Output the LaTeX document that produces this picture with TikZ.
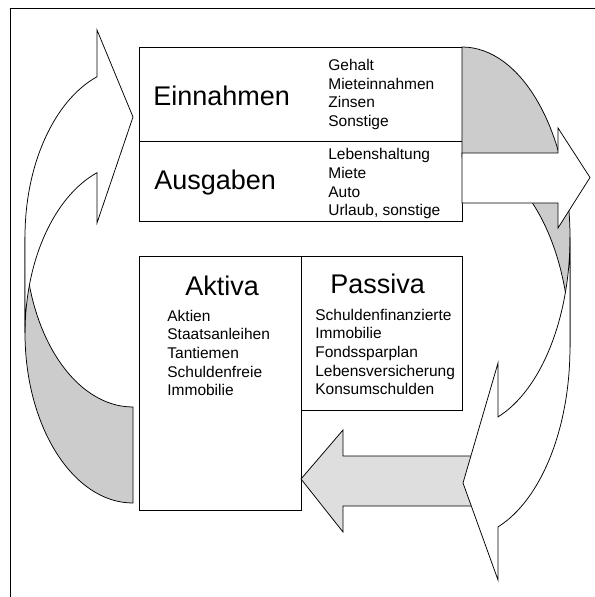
\documentclass[tikz,border=0pt]{standalone}
\usepackage{fontspec}
\setmainfont{Liberation Sans}
\begin{document}
\begin{tikzpicture}[x=1bp,y=-1bp,
  line width=0.75bp, line join=miter,
  big/.style={font=\fontsize{27bp}{32bp}\selectfont, inner sep=0pt, anchor=base west},
  small/.style={font=\fontsize{15.5bp}{18.7bp}\selectfont, inner sep=0pt, anchor=base west},
  box/.style={draw, inner sep=0pt},
  backgray/.style={fill=black!20, draw},
  front/.style={fill=white, draw},
  lightarrow/.style={fill=black!13, draw}]
\useasboundingbox (0,0) rectangle (595,597);
% partial frame
\draw (10,597) -- (10,8) -- (595,8);
% boxes
\node[box, minimum width=323bp, minimum height=94bp] (einbox) at (300.5,94) {};
\node[box, minimum width=323bp, minimum height=80bp] (ausbox) at (300.5,181) {};
\node[box, minimum width=162bp, minimum height=254bp] (aktbox) at (220,383) {};
\node[box, minimum width=161bp, minimum height=154bp] (pasbox) at (381.5,333) {};
% left curved arrow: back (gray) part
\draw[backgray] (25,333) arc[start angle=180, end angle=90, x radius=108, y radius=170]
  -- (133,407) arc[start angle=90, end angle=180, x radius=108, y radius=170] -- cycle;
% left curved arrow: front (white) part
\draw[front] (25,237) arc[start angle=180, end angle=250.5, x radius=108, y radius=170]
  -- (97,30) -- (133,117) -- (97,223) -- (97,172.7)
  arc[start angle=250.5, end angle=180, x radius=108, y radius=170] -- cycle;
% right curved arrow: back (gray) tail
\draw[backgray] (462,47) arc[start angle=270, end angle=360, x radius=108, y radius=190.4]
  -- (570,347.4) arc[start angle=360, end angle=270, x radius=108, y radius=190.4] -- cycle;
% straight white arrow to the right
\draw[front] (462,153) -- (558,153) -- (558,128) -- (590,177.5) -- (558,228) -- (558,203) -- (462,203) -- cycle;
% light gray arrow to the left
\draw[lightarrow] (301,479) -- (343,430) -- (343,456) -- (490,456) -- (490,506) -- (343,506) -- (343,532) -- cycle;
% right curved arrow: front (white) part
\draw[front] (570,237.4) arc[start angle=0, end angle=70.5, x radius=108, y radius=190.4]
  -- (498,363) -- (463,483) -- (498,580) -- (498,526.9)
  arc[start angle=70.5, end angle=0, x radius=108, y radius=190.4] -- cycle;
% titles
\node[big] (tein) at (153,106) {Einnahmen};
\node[big] (taus) at (154,189) {Ausgaben};
\node[big] (takt) at (185,295) {Aktiva};
\node[big] (tpas) at (330,293) {Passiva};
% lists
\foreach \t [count=\i] in {Gehalt, Mieteinnahmen, Zinsen, Sonstige}
  \node[small] (ein\i) at (328,{70.4+18.7*(\i-1)}) {\t};
\foreach \t [count=\i] in {Lebenshaltung, Miete, Auto, {Urlaub, sonstige}}
  \node[small] (aus\i) at (328,{159.8+18.7*(\i-1)}) {\t};
\foreach \t [count=\i] in {Aktien, Staatsanleihen, Tantiemen, Schuldenfreie, Immobilie}
  \node[small] (akt\i) at (167,{321+18.7*(\i-1)}) {\t};
\foreach \t [count=\i] in {Schuldenfinanzierte, Immobilie, Fondssparplan, Lebensversicherung, Konsumschulden}
  \node[small] (pas\i) at (315,{320+18.7*(\i-1)}) {\t};
\end{tikzpicture}
\end{document}
